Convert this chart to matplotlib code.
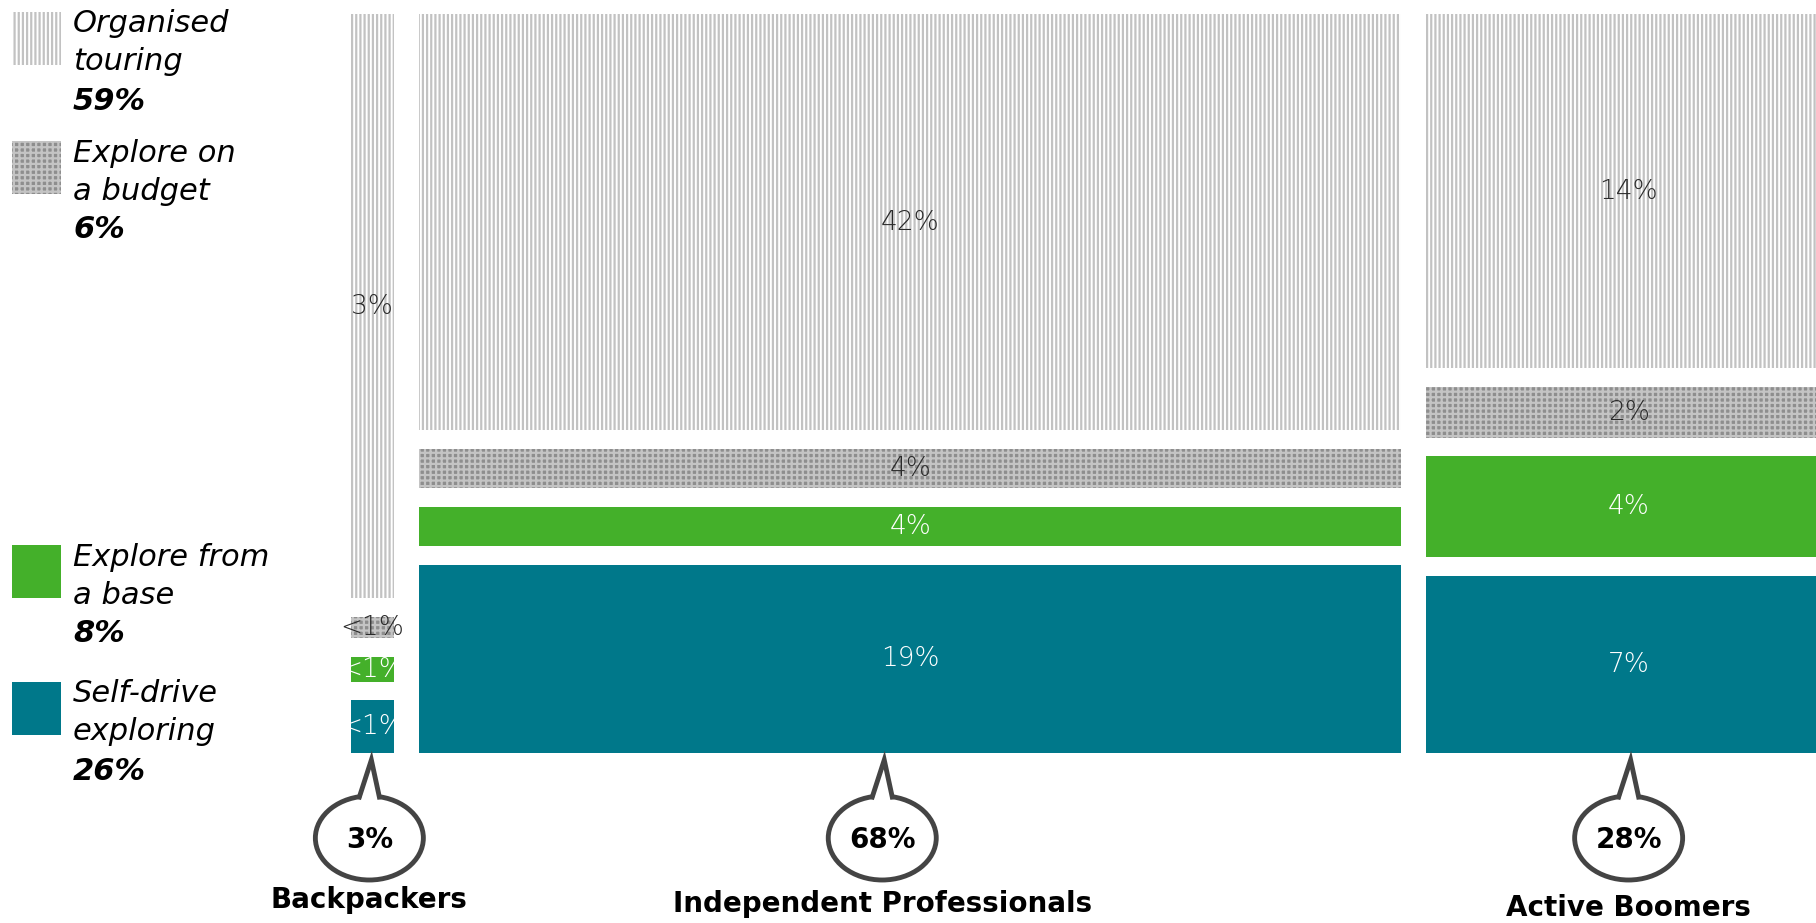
import matplotlib
matplotlib.use("Agg")
import matplotlib.pyplot as plt
from matplotlib.patches import Rectangle, Ellipse, Polygon

# segment totals (legend) and per-group mix
SEGMENTS = [("Organised", "touring"), ("Explore on", "a budget"),
            ("Explore from", "a base"), ("Self-drive", "exploring")]
SEG_TOTALS = [59, 6, 8, 26]
GROUPS = ["Backpackers", "Independent Professionals", "Active Boomers"]
GROUP_SHARES = [3, 68, 28]
backpackers = [3, 0.11, 0.13, 0.27]
independent = [42, 4, 4, 19]
boomers = [14, 2, 4, 7]
MIX = [backpackers, independent, boomers]

TEAL = "#00788a"
GREEN = "#44b02a"
INK = "#2a2a2a"
STYLES = [
    dict(facecolor="white", hatch="||||", edgecolor="#c2c2c2", lw=0),
    dict(facecolor="#8e8e8e", hatch="+++", edgecolor="#c4c4c4", lw=0),
    dict(facecolor=GREEN, edgecolor=GREEN, lw=0),
    dict(facecolor=TEAL, edgecolor=TEAL, lw=0),
]
TEXT_COL = [INK, INK, "white", "white"]

plt.rcParams["hatch.linewidth"] = 1.6
plt.rcParams["font.family"] = "DejaVu Sans"

W, H = 1816, 923
fig = plt.figure(figsize=(W / 100, H / 100), dpi=100)

# ---- marimekko bars ----
GAP_X = 1.75   # gap between columns, in share units
GAP_Y = 2.7    # gap between stacked segments, column height = 100
left_px, bot_px, top_px, px_per_unit = 350.7, 753, 14, 14.44
ax = fig.add_axes([left_px / W, (H - bot_px) / H, 1 - left_px / W, (bot_px - top_px) / H])
ax.set_xlim(0, (W - left_px) / px_per_unit)
ax.set_ylim(0, 100 + 3 * GAP_Y)
ax.axis("off")

def pct(v):
    return "<1%" if v < 1 else f"{round(v)}%"

x = 0
centers = []
for share, vals in zip(GROUP_SHARES, MIX):
    total = sum(vals)
    y = 0
    # stack bottom-up: self-drive, base, budget, organised
    for i in (3, 2, 1, 0):
        h = vals[i] / total * 100
        ax.add_patch(Rectangle((x, y), share, h, **STYLES[i]))
        ax.text(x + share / 2, y + h / 2, pct(vals[i]), ha="center", va="center",
                fontsize=19, color=TEXT_COL[i], fontweight="light", clip_on=False)
        y += h + GAP_Y
    centers.append(left_px + (x + share / 2) * px_per_unit)
    x += share + GAP_X

# ---- overlay in pixel coords: legend, bubbles, group names ----
ov = fig.add_axes([0, 0, 1, 1], zorder=3)
ov.set_xlim(0, W)
ov.set_ylim(H, 0)
ov.axis("off")
ov.patch.set_alpha(0)

legend_tops = [12, 141, 545, 682]
for i, ((l1, l2), tot, ty) in enumerate(zip(SEGMENTS, SEG_TOTALS, legend_tops)):
    ov.add_patch(Rectangle((12, ty), 49, 53, **STYLES[i]))
    ov.text(73, ty + 12, l1, ha="left", va="center", fontsize=22, style="italic")
    ov.text(73, ty + 50, l2, ha="left", va="center", fontsize=22, style="italic")
    ov.text(73, ty + 89, f"{tot}%", ha="left", va="center", fontsize=22,
            style="italic", fontweight="bold")

BUBBLE = "#444444"
rx, ry = 54, 42
shift_x = [-3, -28, 0]       # bubble / name offset from column centre
name_y = [900, 904, 908]
for cx, dx, ny, share, grp in zip(centers, shift_x, name_y, GROUP_SHARES, GROUPS):
    bx = cx + dx
    ecy = 838
    ov.add_patch(Ellipse((bx, ecy), 2 * rx, 2 * ry, facecolor="white",
                         edgecolor=BUBBLE, lw=3.5))
    tip = (bx + 2, 760)
    base_l, base_r = (bx - 9, ecy - ry + 5), (bx + 9, ecy - ry + 5)
    ov.add_patch(Polygon([base_l, tip, base_r], closed=True, facecolor="white",
                         edgecolor="none", zorder=4))
    ov.plot([base_l[0] - 1, tip[0], base_r[0] + 1], [base_l[1] - 4, tip[1], base_r[1] - 4],
            color=BUBBLE, lw=3.5, solid_joinstyle="miter", zorder=5)
    ov.text(bx, ecy + 2, f"{share}%", ha="center", va="center", fontsize=20,
            fontweight="bold", color="black")
    ov.text(bx, ny, grp, ha="center", va="center", fontsize=20, fontweight="bold",
            color="black")

fig.savefig("out.png", dpi=100, facecolor="white")
